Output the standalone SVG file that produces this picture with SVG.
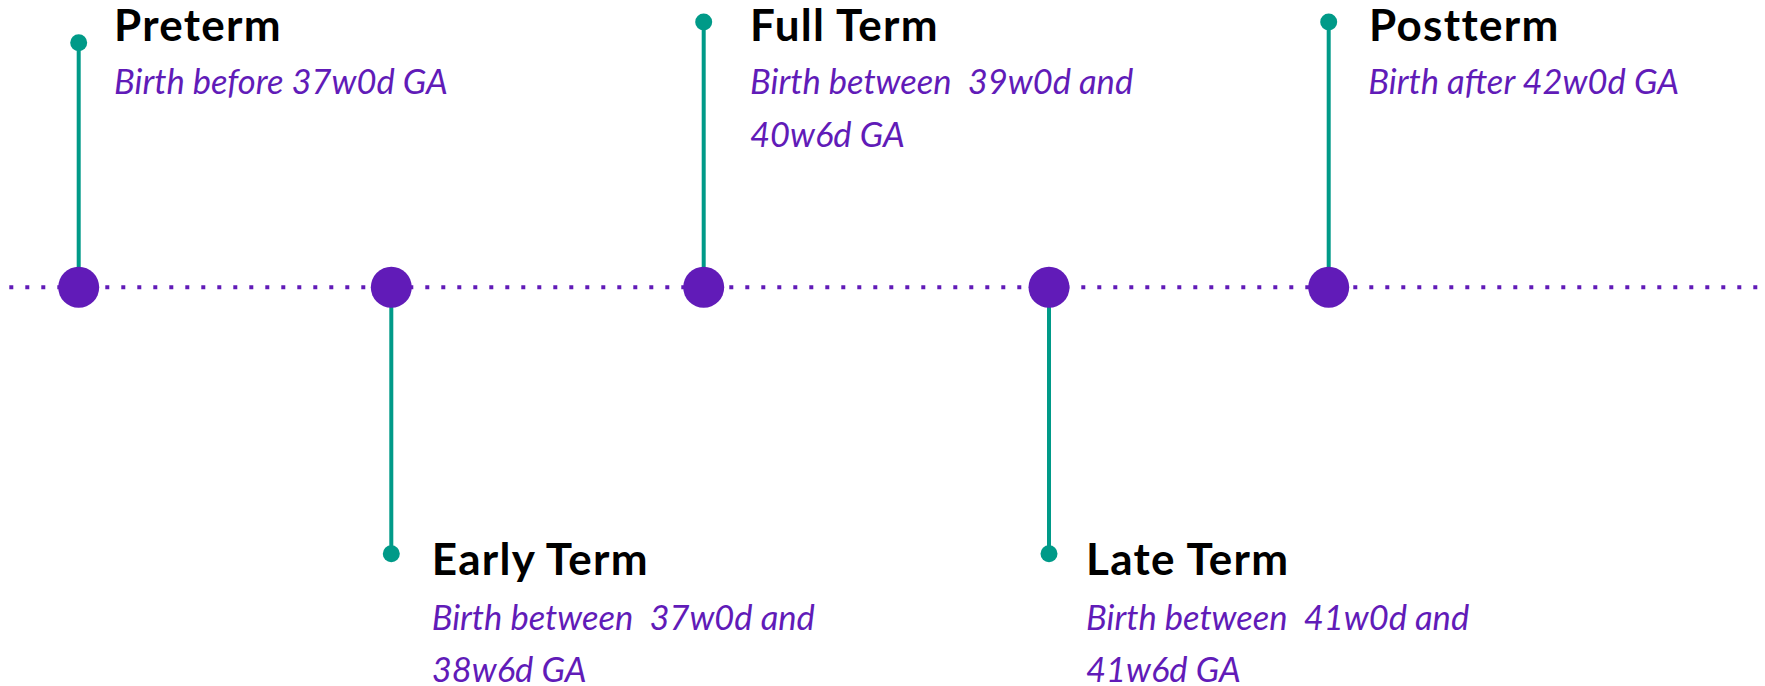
<svg xmlns="http://www.w3.org/2000/svg" width="1765" height="686" viewBox="0 0 1765 686">
<style>
.axis{stroke:#611bb8;stroke-width:4;stroke-dasharray:4 12;fill:none}
.stem{stroke:#009a88;stroke-width:4;fill:none}
.tip{fill:#009a88}
.hub{fill:#611bb8}
.t{font-family:Lato,"Noto Sans",sans-serif;font-weight:bold;font-size:44px;letter-spacing:1.3px;fill:#000}
.s{font-family:Lato,"Noto Sans",sans-serif;font-style:italic;font-size:34.5px;fill:#611bb8;white-space:pre}
</style>
<rect width="1765" height="686" fill="#fff"/>
<g id="connectors">
<line class="axis" x1="9.3" y1="287.3" x2="1765" y2="287.3"/>
<line class="stem" x1="78.7" y1="42.7" x2="78.7" y2="287.3"/>
<line class="stem" x1="391.3" y1="287.3" x2="391.3" y2="553.7"/>
<line class="stem" x1="703.7" y1="22" x2="703.7" y2="287.3"/>
<line class="stem" x1="1049" y1="287.3" x2="1049" y2="553.7"/>
<line class="stem" x1="1328.7" y1="22" x2="1328.7" y2="287.3"/>
</g>
<g id="preterm">
<circle class="hub" cx="78.7" cy="287.3" r="20.5"/>
<circle class="tip" cx="78.7" cy="42.7" r="8.5"/>
<text class="t" x="114" y="40.5">Preterm</text>
<text class="s" x="114" y="94.3">Birth before 37w0d GA</text>
</g>
<g id="early-term">
<circle class="hub" cx="391.3" cy="287.3" r="20.5"/>
<circle class="tip" cx="391.3" cy="553.7" r="8.5"/>
<text class="t" x="431.7" y="575">Early Term</text>
<text class="s" x="431.7" y="630" xml:space="preserve">Birth between  37w0d and</text>
<text class="s" x="431.7" y="681.7">38w6d GA</text>
</g>
<g id="full-term">
<circle class="hub" cx="703.7" cy="287.3" r="20.5"/>
<circle class="tip" cx="703.7" cy="22" r="8.5"/>
<text class="t" x="750" y="40.5">Full Term</text>
<text class="s" x="750" y="94.3" xml:space="preserve">Birth between  39w0d and</text>
<text class="s" x="750" y="146.7">40w6d GA</text>
</g>
<g id="late-term">
<circle class="hub" cx="1049" cy="287.3" r="20.5"/>
<circle class="tip" cx="1049" cy="553.7" r="8.5"/>
<text class="t" x="1086" y="575">Late Term</text>
<text class="s" x="1086" y="630" xml:space="preserve">Birth between  41w0d and</text>
<text class="s" x="1086" y="681.7">41w6d GA</text>
</g>
<g id="postterm">
<circle class="hub" cx="1328.7" cy="287.3" r="20.5"/>
<circle class="tip" cx="1328.7" cy="22" r="8.5"/>
<text class="t" x="1369" y="40.5">Postterm</text>
<text class="s" x="1368.3" y="94.3">Birth after 42w0d GA</text>
</g>
</svg>
